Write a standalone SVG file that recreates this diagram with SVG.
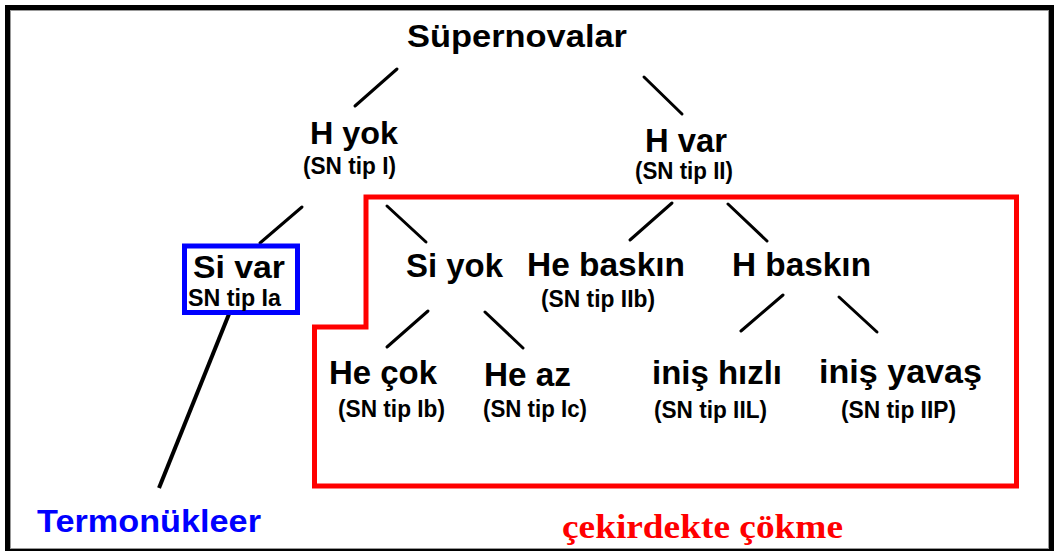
<svg xmlns="http://www.w3.org/2000/svg" width="1054" height="551" viewBox="0 0 1054 551">
<style>
.t{font-family:"Liberation Sans",Arial,sans-serif;font-weight:bold;fill:#000;text-anchor:middle}
.m{font-size:33px}
.s{font-size:24px}
.ln{stroke:#000;stroke-width:3;stroke-linecap:round;fill:none}
</style>
<rect width="1054" height="551" fill="#fff"/>
<rect x="7.5" y="7.5" width="1044" height="543" fill="none" stroke="#000" stroke-width="5"/>
<rect x="10.5" y="10.5" width="1038" height="538" fill="none" stroke="#999" stroke-width="1"/>
<g id="region-collapse">
<path d="M366 197 H1016.5 V486 H314.5 V327 H366 Z" fill="none" stroke="#ff0000" stroke-width="5"/>
</g>
<g id="connectors">
<line class="ln" x1="397" y1="69" x2="355" y2="106"/>
<line class="ln" x1="644" y1="77" x2="682" y2="114"/>
<line class="ln" x1="302" y1="207" x2="260" y2="243"/>
<line class="ln" x1="387" y1="206" x2="426" y2="242"/>
<line class="ln" x1="428" y1="311" x2="387" y2="347"/>
<line class="ln" x1="485" y1="312" x2="523" y2="348"/>
<line class="ln" x1="672" y1="203" x2="630" y2="240"/>
<line class="ln" x1="728" y1="204" x2="767" y2="241"/>
<line class="ln" x1="783" y1="295" x2="741" y2="331"/>
<line class="ln" x1="839" y1="297" x2="877" y2="332"/>
<line x1="229" y1="314" x2="159" y2="488" stroke="#000" stroke-width="4"/>
</g>
<g id="n-supernovalar"><text class="t" x="517" y="47" font-size="31" textLength="220" lengthAdjust="spacingAndGlyphs">Süpernovalar</text></g>
<g id="n-hyok">
<text class="t" x="354" y="144" font-size="32" textLength="88" lengthAdjust="spacingAndGlyphs">H yok</text>
<text class="t s" x="349.5" y="174" textLength="93" lengthAdjust="spacingAndGlyphs">(SN tip I)</text>
</g>
<g id="n-hvar">
<text class="t m" x="686" y="152" textLength="82" lengthAdjust="spacingAndGlyphs">H var</text>
<text class="t s" x="684" y="179" textLength="98" lengthAdjust="spacingAndGlyphs">(SN tip II)</text>
</g>
<g id="n-sivar">
<rect x="184.5" y="246" width="113" height="66.5" fill="none" stroke="#0000ff" stroke-width="5"/>
<text class="t" x="239" y="278" font-size="32" textLength="92" lengthAdjust="spacingAndGlyphs">Si var</text>
<text class="t s" x="234.5" y="306" textLength="93" lengthAdjust="spacingAndGlyphs">SN tip Ia</text>
</g>
<g id="n-siyok"><text class="t m" x="454.5" y="277" textLength="97" lengthAdjust="spacingAndGlyphs">Si yok</text></g>
<g id="n-hebaskin">
<text class="t m" x="606" y="276" textLength="158" lengthAdjust="spacingAndGlyphs">He baskın</text>
<text class="t s" x="598" y="307" textLength="114" lengthAdjust="spacingAndGlyphs">(SN tip IIb)</text>
</g>
<g id="n-hbaskin"><text class="t m" x="801.5" y="276" textLength="139" lengthAdjust="spacingAndGlyphs">H baskın</text></g>
<g id="n-hecok">
<text class="t m" x="383" y="384" textLength="108" lengthAdjust="spacingAndGlyphs">He çok</text>
<text class="t s" x="391.5" y="417" textLength="107" lengthAdjust="spacingAndGlyphs">(SN tip Ib)</text>
</g>
<g id="n-heaz">
<text class="t m" x="527.5" y="386" textLength="87" lengthAdjust="spacingAndGlyphs">He az</text>
<text class="t s" x="535" y="417" textLength="104" lengthAdjust="spacingAndGlyphs">(SN tip Ic)</text>
</g>
<g id="n-inishizli">
<text class="t m" x="717" y="384" textLength="130" lengthAdjust="spacingAndGlyphs">iniş hızlı</text>
<text class="t s" x="710.5" y="418" textLength="113" lengthAdjust="spacingAndGlyphs">(SN tip IIL)</text>
</g>
<g id="n-inisyavas">
<text class="t m" x="900.5" y="383" textLength="163" lengthAdjust="spacingAndGlyphs">iniş yavaş</text>
<text class="t s" x="898.5" y="418" textLength="115" lengthAdjust="spacingAndGlyphs">(SN tip IIP)</text>
</g>
<g id="n-termonukleer"><text class="t" x="149" y="532" font-size="31" style="fill:#0000ff" textLength="224" lengthAdjust="spacingAndGlyphs">Termonükleer</text></g>
<g id="n-cekirdek"><text x="702.5" y="538" font-family="'Liberation Serif','Times New Roman',serif" font-weight="bold" font-size="34" fill="#ff0000" text-anchor="middle" textLength="281" lengthAdjust="spacingAndGlyphs">çekirdekte çökme</text></g>
</svg>
